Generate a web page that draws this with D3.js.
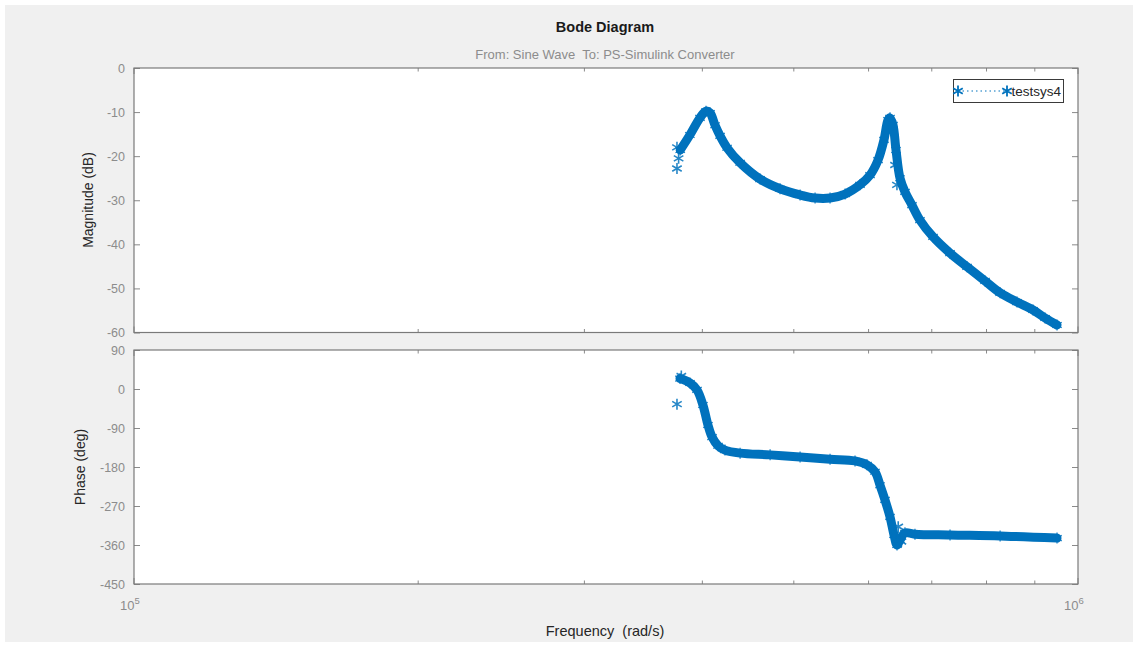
<!DOCTYPE html>
<html>
<head>
<meta charset="utf-8">
<script src="https://cdn.jsdelivr.net/npm/d3@7"></script>
<style>
  body { margin: 0; background: #ffffff; }
  svg { display: block; }
  text { font-family: "Liberation Sans", Arial, Helvetica, sans-serif; }
</style>
</head>
<body>
<svg id="chart" width="1138" height="647"></svg>
<script>
// Estimated frequency response of testsys4 (rad/s, dB, degrees)
const magFreq = [3.79e5, 3.88e5, 3.977e5, 4.036e5, 4.076e5, 4.126e5, 4.177e5, 4.249e5, 4.386e5, 4.605e5,
                 4.835e5, 5.077e5, 5.266e5, 5.462e5, 5.666e5, 5.876e5, 6.021e5, 6.14e5, 6.23e5, 6.291e5,
                 6.322e5, 6.368e5, 6.415e5, 6.478e5, 6.557e5, 6.67e5, 6.801e5, 7.021e5, 7.319e5, 7.629e5,
                 7.971e5, 8.27e5, 8.619e5, 8.961e5, 9.228e5, 9.501e5];
const magDb = [-18.6, -15.2, -11.3, -9.8, -10.2, -13.0, -15.4, -18.1, -21.5, -25.2,
               -27.4, -28.8, -29.5, -29.5, -28.6, -26.5, -24.3, -20.9, -16.3, -11.8,
               -11.3, -12.9, -18.6, -25.0, -28.1, -31.1, -34.5, -38.3, -42.0, -45.1,
               -48.3, -51.0, -53.1, -54.9, -56.7, -58.3];
const magStrayFreq = [3.76e5, 3.76e5, 3.775e5, 6.4e5, 6.43e5];
const magStrayDb = [-18.0, -22.8, -20.5, -22.0, -26.5];

const phaseFreq = [3.788e5, 3.881e5, 3.948e5, 4.006e5, 4.055e5, 4.096e5, 4.156e5, 4.227e5, 4.386e5, 4.719e5,
                   5.077e5, 5.462e5, 5.805e5, 5.977e5, 6.095e5, 6.17e5, 6.245e5, 6.322e5, 6.384e5, 6.431e5,
                   6.478e5, 6.557e5, 6.719e5, 7.319e5, 8.27e5, 9.501e5];
const phaseDeg = [24, 13.8, -2, -37, -83, -111, -131, -141, -148, -152,
                  -157, -162, -166, -175, -191, -222, -256, -295, -337, -360,
                  -348, -332, -335, -337, -339, -344];
const phaseStrayFreq = [3.76e5, 3.8e5, 6.45e5, 6.5e5];
const phaseStrayDeg = [-35, 30, -318, -352];

const magTicks = [0, -10, -20, -30, -40, -50, -60];
const phaseTicks = [90, 0, -90, -180, -270, -360, -450];
const minorFreqTicks = [2e5, 3e5, 4e5, 5e5, 6e5, 7e5, 8e5, 9e5];
const decadeTicks = [1e5, 1e6];
const seriesName = "testsys4";

const blue = "#0072BD";
const axisGray = "#8a8a8a";
const labelGray = "#8c8c8c";

const svg = d3.select("#chart");

// figure background
svg.append("rect").attr("x", 0).attr("y", 0).attr("width", 1138).attr("height", 647).attr("fill", "#ffffff");
svg.append("rect").attr("x", 5).attr("y", 5).attr("width", 1128).attr("height", 637).attr("fill", "#f0f0f0");

const left = 134, right = 1078;
const x = d3.scaleLog().domain([1e5, 1e6]).range([left, right]);
const yMag = d3.scaleLinear().domain([-60, 0]).range([332.5, 68]);
const yPh = d3.scaleLinear().domain([-450, 90]).range([584, 350]);

function drawPanel(y, ticks, showXLabels) {
  const [y0, y1] = y.range(); // bottom, top
  const g = svg.append("g");
  g.append("rect").attr("x", left).attr("y", y1).attr("width", right - left).attr("height", y0 - y1)
    .attr("fill", "#ffffff");

  // y ticks (inward on both sides) and labels
  const yAxis = d3.axisLeft(y).tickValues(ticks).tickSizeInner(-6).tickSizeOuter(0).tickPadding(9)
    .tickFormat(d3.format("d"));
  const ya = g.append("g").attr("transform", `translate(${left},0)`).call(yAxis);
  ya.select(".domain").remove();
  ya.selectAll("line").attr("stroke", axisGray);
  ya.selectAll("text").attr("fill", labelGray).attr("font-size", 12.5)
    .text(d => String(d));
  const yr = g.append("g").attr("transform", `translate(${right},0)`)
    .call(d3.axisRight(y).tickValues(ticks).tickSizeInner(-6).tickSizeOuter(0).tickFormat(""));
  yr.select(".domain").remove();
  yr.selectAll("line").attr("stroke", axisGray);

  // x ticks at bottom and top, inward
  [[y0, -1], [y1, 1]].forEach(([yy, dir]) => {
    g.selectAll(null).data(minorFreqTicks).enter().append("line")
      .attr("x1", d => x(d)).attr("x2", d => x(d))
      .attr("y1", yy).attr("y2", yy + dir * 3.5)
      .attr("stroke", axisGray);
    g.selectAll(null).data(decadeTicks).enter().append("line")
      .attr("x1", d => x(d)).attr("x2", d => x(d))
      .attr("y1", yy).attr("y2", yy + dir * 6)
      .attr("stroke", axisGray);
  });

  g.append("rect").attr("x", left).attr("y", y1).attr("width", right - left).attr("height", y0 - y1)
    .attr("fill", "none").attr("stroke", "#7a7a7a").attr("stroke-width", 1.2);

  if (showXLabels) {
    decadeTicks.forEach(d => {
      const t = g.append("text").attr("x", x(d) - 4).attr("y", y0 + 26)
        .attr("text-anchor", "middle").attr("fill", labelGray).attr("font-size", 13);
      t.append("tspan").text("10");
      t.append("tspan").attr("dy", -6).attr("font-size", 9.5).text(Math.round(Math.log10(d)));
    });
  }
  return g;
}

const star = d3.symbol().type(d3.symbolAsterisk).size(85);

function drawSeries(y, fx, fy, sx, sy, clipId) {
  const [y0, y1] = y.range();
  svg.append("clipPath").attr("id", clipId).append("rect")
    .attr("x", left).attr("y", y1).attr("width", right - left).attr("height", y0 - y1);
  const layer = svg.append("g").attr("clip-path", `url(#${clipId})`);
  const pts = fx.map((f, i) => [x(f), y(fy[i])]);
  const line = d3.line().curve(d3.curveCatmullRom.alpha(0.5));
  layer.append("path").attr("d", line(pts)).attr("fill", "none")
    .attr("stroke", blue).attr("stroke-width", 9).attr("stroke-linecap", "round").attr("stroke-linejoin", "round");
  layer.selectAll(null).data(pts).enter().append("path")
    .attr("d", star).attr("transform", d => `translate(${d[0]},${d[1]})`)
    .attr("fill", "none").attr("stroke", blue).attr("stroke-width", 1.3).attr("stroke-opacity", 0.85);
  layer.selectAll(null).data(sx.map((f, i) => [x(f), y(sy[i])])).enter().append("path")
    .attr("d", star).attr("transform", d => `translate(${d[0]},${d[1]})`)
    .attr("fill", "none").attr("stroke", blue).attr("stroke-width", 1.6).attr("stroke-opacity", 0.85);
}

drawPanel(yMag, magTicks, false);
drawPanel(yPh, phaseTicks, true);
drawSeries(yMag, magFreq, magDb, magStrayFreq, magStrayDb, "clipMag");
drawSeries(yPh, phaseFreq, phaseDeg, phaseStrayFreq, phaseStrayDeg, "clipPh");

// legend
const lg = svg.append("g");
lg.append("rect").attr("x", 953.5).attr("y", 79.5).attr("width", 110).attr("height", 23)
  .attr("fill", "#ffffff").attr("stroke", "#3a3a3a").attr("stroke-width", 1);
lg.append("text").attr("x", 1061).attr("y", 95.5).attr("text-anchor", "end")
  .attr("font-size", 13.5).attr("fill", "#262626").text(seriesName);
lg.append("line").attr("x1", 958).attr("x2", 1007).attr("y1", 91).attr("y2", 91)
  .attr("stroke", blue).attr("stroke-width", 1).attr("stroke-dasharray", "1.5,3");
[958, 1007].forEach(px => {
  lg.append("path").attr("d", star).attr("transform", `translate(${px},91)`)
    .attr("fill", "none").attr("stroke", blue).attr("stroke-width", 1.8);
});

// titles and axis labels
svg.append("text").attr("x", 605).attr("y", 32).attr("text-anchor", "middle")
  .attr("font-size", 14.5).attr("font-weight", "bold").attr("fill", "#1a1a1a").text("Bode Diagram");
svg.append("text").attr("x", 605).attr("y", 59).attr("text-anchor", "middle")
  .attr("font-size", 13).attr("fill", "#8c8c8c").text("From: Sine Wave  To: PS-Simulink Converter")
  .style("white-space", "pre");
svg.append("text").attr("transform", "translate(93,200) rotate(-90)").attr("text-anchor", "middle")
  .attr("font-size", 14).attr("fill", "#262626").text("Magnitude (dB)");
svg.append("text").attr("transform", "translate(85,467) rotate(-90)").attr("text-anchor", "middle")
  .attr("font-size", 14).attr("fill", "#262626").text("Phase (deg)");
svg.append("text").attr("x", 605).attr("y", 636).attr("text-anchor", "middle")
  .attr("font-size", 14.5).attr("fill", "#262626").text("Frequency  (rad/s)")
  .style("white-space", "pre");
</script>
</body>
</html>
